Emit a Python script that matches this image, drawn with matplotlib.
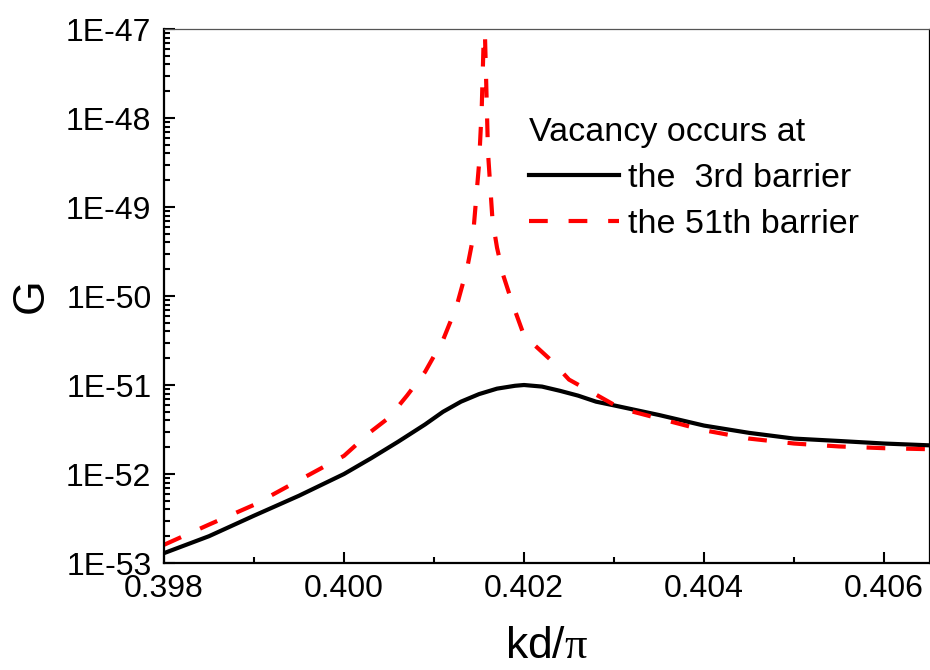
import numpy as np
import matplotlib
matplotlib.use("Agg")
import matplotlib.pyplot as plt
from matplotlib.ticker import FuncFormatter, LogLocator, MultipleLocator

plt.rcParams["font.family"] = ["Liberation Sans", "DejaVu Sans"]
plt.rcParams["mathtext.fontset"] = "custom"
plt.rcParams["mathtext.rm"] = "Liberation Serif"

# vacancy at the 3rd barrier
x_3rd = [0.3980, 0.3985, 0.3990, 0.3995, 0.4000, 0.4003, 0.4006, 0.4009,
         0.4011, 0.4013, 0.4015, 0.4017, 0.4019, 0.4020, 0.4022, 0.4024,
         0.4026, 0.4028, 0.4030, 0.4035, 0.4040, 0.4045, 0.4050, 0.4055,
         0.4060, 0.4065]
g_3rd = [1.29e-53, 2.0e-53, 3.4e-53, 5.7e-53, 1.0e-52, 1.5e-52, 2.3e-52, 3.6e-52,
         5.0e-52, 6.5e-52, 7.9e-52, 9.1e-52, 9.8e-52, 1.0e-51, 9.6e-52, 8.6e-52,
         7.6e-52, 6.5e-52, 5.9e-52, 4.6e-52, 3.5e-52, 2.9e-52, 2.5e-52, 2.35e-52,
         2.2e-52, 2.1e-52]

# vacancy at the 51th barrier
x_51th = [0.3980, 0.3985, 0.3990, 0.3995, 0.4000, 0.4003, 0.4005, 0.4007,
          0.4009, 0.4011, 0.40125, 0.40137, 0.40143, 0.4015, 0.40153, 0.40156,
          0.4016, 0.40165, 0.4017, 0.40177, 0.40187, 0.4020, 0.4023, 0.4025,
          0.4028, 0.4030, 0.40315, 0.4035, 0.4040, 0.4045, 0.4050, 0.4055,
          0.4060, 0.4065]
g_51th = [1.6e-53, 2.7e-53, 4.5e-53, 8.5e-53, 1.6e-52, 3.0e-52, 4.3e-52, 7.6e-52,
          1.4e-51, 3.2e-51, 7.6e-51, 2.1e-50, 4.3e-50, 3.0e-49, 1.26e-48, 1.5e-47,
          4.1e-49, 7.1e-50, 3.5e-50, 1.7e-50, 8.3e-51, 3.6e-51, 1.9e-51, 1.15e-51,
          7.8e-52, 6.0e-52, 5.2e-52, 4.2e-52, 3.1e-52, 2.5e-52, 2.2e-52, 2.04e-52,
          1.95e-52, 1.9e-52]

fig = plt.figure(figsize=(9.3, 6.7), dpi=100)
ax = fig.add_axes([0.1763, 0.1597, 0.8227, 0.797])

ax.plot(x_3rd, g_3rd, color="black", lw=3.0, label="the  3rd barrier")
ax.plot(x_51th, g_51th, color="red", lw=3.0, dashes=(4.5, 5.0),
        label="the 51th barrier")

ax.set_yscale("log")
ax.set_xlim(0.398, 0.4065)
ax.set_ylim(1e-53, 1e-47)

ax.xaxis.set_major_locator(MultipleLocator(0.002))
ax.xaxis.set_minor_locator(MultipleLocator(0.001))
ax.xaxis.set_major_formatter(FuncFormatter(lambda v, p: f"{v:.3f}"))
ax.yaxis.set_major_locator(LogLocator(base=10, numticks=20))
ax.yaxis.set_minor_locator(LogLocator(base=10, subs=np.arange(2, 10), numticks=20))
ax.yaxis.set_major_formatter(FuncFormatter(lambda v, p: f"1E{int(round(np.log10(v)))}"))

ax.tick_params(which="both", direction="in", labelsize=23, width=1.5,
               top=False, right=False)
ax.tick_params(which="major", length=8)
ax.tick_params(which="minor", length=4.5)
ax.tick_params(axis="y", pad=9)
ax.tick_params(axis="x", pad=8)

for s in ["left", "bottom"]:
    ax.spines[s].set_linewidth(1.6)
ax.spines["top"].set_linewidth(0.9)
ax.spines["top"].set_color("#555555")
ax.spines["right"].set_linewidth(0.9)

ax.set_ylabel("G", fontsize=32, labelpad=10)
ax.set_xlabel(r"kd/$\mathrm{\pi}$", fontsize=32, labelpad=16)

leg = ax.legend(title="Vacancy occurs at", loc="upper left",
                bbox_to_anchor=(0.455, 0.868), frameon=False, fontsize=24.5,
                title_fontsize=24.5, handlelength=2.64, handletextpad=0.26,
                labelspacing=0.45, borderpad=0, alignment="left")

fig.savefig("out.png", dpi=100)
